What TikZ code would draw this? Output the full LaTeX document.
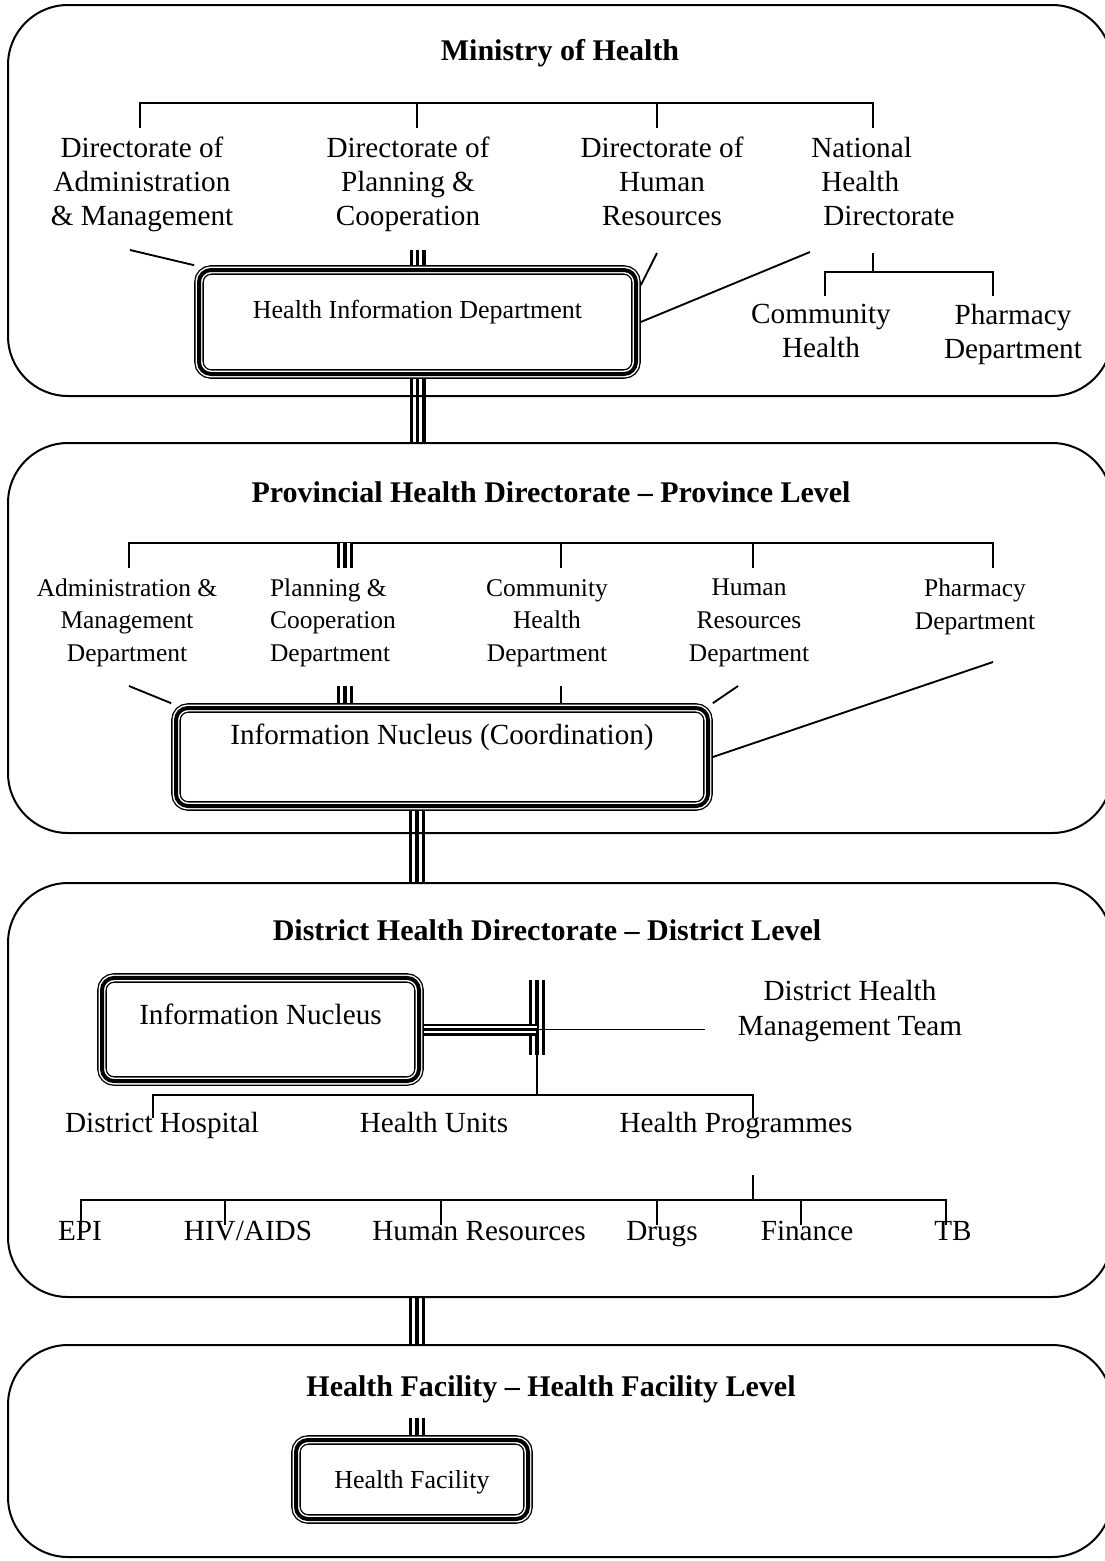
\documentclass[tikz,border=0pt]{standalone}
\usepackage{fontspec}
\setmainfont{Liberation Serif}
\usetikzlibrary{backgrounds,calc}
\newcommand\szTitle{\fontsize{22.5}{26}\selectfont\bfseries}
\newcommand\szBig{\fontsize{21.9}{25.5}\selectfont}
\newcommand\szTeam{\fontsize{21.9}{26.3}\selectfont}
\newcommand\szMid{\fontsize{19.1}{24.4}\selectfont}
\newcommand\szBox{\fontsize{19.5}{23}\selectfont}
\begin{document}
\begin{tikzpicture}[x=0.75pt,y=-0.75pt,
  panel/.style={draw, line width=1.5pt, rectangle, rounded corners=45pt, inner sep=0pt},
  txt/.style={inner sep=0pt, align=center},
  multi/.style={txt, execute at begin node=\strut, execute at end node=\strut},
  word/.style={inner sep=0pt, anchor=base},
  link/.style={line width=1.4pt},
  triple/.style={line width=12pt, postaction={draw=white, line width=7pt}, postaction={draw=black, line width=2.6pt}},
  triplethin/.style={line width=9pt, postaction={draw=white, line width=5.2pt}, postaction={draw=black, line width=2pt}},
  tribox/.style={rectangle, rounded corners=9pt, draw, line width=7.2pt, inner sep=0pt,
    postaction={draw=white, line width=5.2pt}, postaction={draw=black, line width=3pt}}]
\useasboundingbox (0,0) rectangle (1104,1561);

% ---------- tier frames ----------
\node[panel, minimum width=828pt, minimum height=293.25pt] (p1) at (560,200.5) {};
\node[panel, minimum width=828pt, minimum height=292.5pt] (p2) at (560,638) {};
\node[panel, minimum width=828pt, minimum height=310.5pt] (p3) at (560,1090) {};
\node[panel, minimum width=828pt, minimum height=159pt] (p4) at (560,1451) {};

% ---------- national level ----------
\node[word, font=\szTitle] (moh) at (560,60) {Ministry of Health};
\node[multi, font=\szBig] (dam) at (142,186) {Directorate of\\Administration\\\& Management};
\node[multi, font=\szBig] (dpc) at (408,186) {Directorate of\\Planning \&\\Cooperation};
\node[multi, font=\szBig] (dhr) at (662,186) {Directorate of\\Human\\Resources};
\node[multi, font=\szBig, align=left] (nhd) at (883,186) {National\\\hspace{7.5pt}Health\\\hspace{9pt}Directorate};
\node[tribox, font=\szBox, minimum width=327.75pt, minimum height=78pt, text height=36pt, text depth=42pt] (hid) at (417.5,322) {Health Information Department};
\node[multi, font=\szBig] (ch) at (821,336) {Community\\Health};
\node[multi, font=\szBig] (pd) at (1013,336) {Pharmacy\\Department};

% ---------- province level ----------
\node[word, font=\szTitle] (phd) at (551,502) {Provincial Health Directorate – Province Level};
\node[multi, font=\szMid] (amd) at (127,625) {Administration \&\\Management\\Department};
\node[multi, font=\szMid, align=left] (pcd) at (333,625) {Planning \&\\Cooperation\\Department};
\node[multi, font=\szMid] (chd) at (547,625) {Community\\Health\\Department};
\node[multi, font=\szMid] (hrd) at (749,625) {Human\\Resources\\Department};
\node[multi, font=\szMid] (phm) at (975,609) {Pharmacy\\Department};
\node[tribox, font=\szBig, minimum width=399pt, minimum height=73.5pt, text height=27.4pt, text depth=46.1pt] (pn) at (442,757) {Information Nucleus (Coordination)};

% ---------- district level ----------
\node[word, font=\szTitle] (dhd) at (547,940) {District Health Directorate – District Level};
\node[tribox, font=\szBig, minimum width=237.75pt, minimum height=77.25pt, text height=34.9pt, text depth=42.4pt] (dn) at (260.5,1029.5) {Information Nucleus};
\node[multi, font=\szTeam] (dhmt) at (850,1013) {District Health\\Management Team};
\node[word, font=\szBig] (dh) at (162,1132) {District Hospital};
\node[word, font=\szBig] (hu) at (434,1132) {Health Units};
\node[word, font=\szBig] (hp) at (736,1132) {Health Programmes};
\node[word, font=\szBig] (epi) at (80,1240) {EPI};
\node[word, font=\szBig] (hiv) at (248,1240) {HIV/AIDS};
\node[word, font=\szBig] (hr) at (479,1240) {Human Resources};
\node[word, font=\szBig] (drg) at (662,1240) {Drugs};
\node[word, font=\szBig] (fin) at (807,1240) {Finance};
\node[word, font=\szBig] (tb) at (953,1240) {TB};

% ---------- facility level ----------
\node[word, font=\szTitle] (hfl) at (551,1396) {Health Facility – Health Facility Level};
\node[tribox, font=\szBox, minimum width=174pt, minimum height=59.25pt, text height=36pt, text depth=23.25pt] (hf) at (412,1479.5) {Health Facility};

% ---------- junction points ----------
\coordinate (bar1) at (0,103);
\coordinate (t1) at (140,128); \coordinate (t2) at (417,128);
\coordinate (t3) at (657,128); \coordinate (t4) at (873,128);
\coordinate (ad1) at (130,250); \coordinate (pl1) at (417.5,250);
\coordinate (hr1) at (657,253); \coordinate (nh1) at (810,252);
\coordinate (nh2) at (873,253); \coordinate (bar2) at (0,272);
\coordinate (u1) at (825,296); \coordinate (u2) at (993,296);
\coordinate (link12) at (417.5,0);

\coordinate (bar3) at (0,543);
\coordinate (v1) at (129,568); \coordinate (v2) at (345,568); \coordinate (v3) at (561,568);
\coordinate (v4) at (753,568); \coordinate (v5) at (993,568);
\coordinate (w1) at (129,686); \coordinate (w2) at (345,686); \coordinate (w3) at (561,686);
\coordinate (w4) at (738,686); \coordinate (w5) at (993,662);
\coordinate (link23) at (417,0);

\coordinate (j) at (537,1029.5); \coordinate (jt) at (537,980); \coordinate (jb) at (537,1055);
\coordinate (jr) at (705,1029.5);
\coordinate (bar4) at (0,1095);
\coordinate (k1) at (153,1118); \coordinate (k2) at (753,1118);
\coordinate (m0) at (753,1175); \coordinate (bar5) at (0,1200);
\coordinate (q1) at (81,1225); \coordinate (q2) at (225,1225); \coordinate (q3) at (441,1225);
\coordinate (q4) at (657,1225); \coordinate (q5) at (801,1225); \coordinate (q6) at (946,1225);
\coordinate (f0) at (417,1418);

% ---------- connectors ----------
\begin{scope}[on background layer]
  % national
  \draw[link] (t1) |- (bar1 -| t4) -- (t4);
  \draw[link] (t2) -- (t2 |- bar1);
  \draw[link] (t3) -- (t3 |- bar1);
  \draw[link] (ad1) -- (hid.north west);
  \draw[triple] (pl1) -- (hid.north);
  \draw[link] (hr1) -- ($(hid.north east)+(0,20)$);
  \draw[link] (nh1) -- (hid.east);
  \draw[link] (nh2) -- (nh2 |- bar2);
  \draw[link] (u1) |- (bar2 -| u2) -- (u2);
  \draw[triple] (hid.south) -- (link12 |- p2.north);
  % province
  \draw[link] (v1) |- (bar3 -| v5) -- (v5);
  \draw[link] (v3) -- (v3 |- bar3);
  \draw[link] (v4) -- (v4 |- bar3);
  \draw[triple] (v2 |- bar3) -- (v2);
  \draw[link] (w1) -- (pn.north west);
  \draw[triple] (w2) -- (w2 |- pn.north);
  \draw[link] (w3) -- (w3 |- pn.north);
  \draw[link] (w4) -- (pn.north east);
  \draw[link] (w5) -- (pn.east);
  \draw[triple] (link23 |- pn.south) -- (link23 |- p3.north);
  % district
  \draw[triple] (jt) -- (jb);
  \draw[triplethin] (dn.east) -- (j);
  \draw[link] (j) -- (jr);
  \draw[link] (j) -- (j |- bar4);
  \draw[link] (k1) |- (bar4 -| k2) -- (k2);
  \draw[link] (m0) -- (m0 |- bar5);
  \draw[link] (q1) |- (bar5 -| q6) -- (q6);
  \foreach \q in {q2,q3,q4,q5} \draw[link] (\q) -- (\q |- bar5);
  \draw[triple] (link23 |- p3.south) -- (link23 |- p4.north);
  % facility
  \draw[triple] (f0) -- (f0 |- hf.north);
\end{scope}
\end{tikzpicture}
\end{document}
